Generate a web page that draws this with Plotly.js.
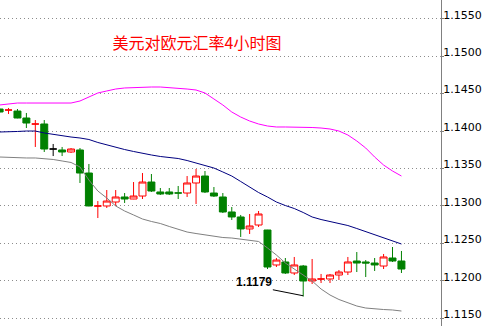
<!DOCTYPE html>
<html><head><meta charset="utf-8">
<script src="https://cdn.plot.ly/plotly-3.0.1.min.js"></script>
<style>html,body{margin:0;padding:0;background:#fff}#chart{width:483px;height:326px}</style>
</head><body><div id="chart"></div>
<script>
// 4-hour bars, index 0..45
const openP  = [1.14294,1.14280,1.14267,1.14174,1.14093,1.14094,1.13760,1.13747,1.13720,1.13747,
                1.13439,1.12998,1.12999,1.13052,1.13119,1.13092,1.13132,1.13319,1.13186,1.13186,
                1.13173,1.13172,1.13306,1.13399,1.13172,1.13119,1.12919,1.12852,1.12692,1.12745,
                1.12678,1.12211,1.12251,1.12104,1.12197,1.11997,1.12023,1.12024,1.12077,1.12117,
                1.12264,1.12251,1.12237,1.12197,1.12304,1.12264];
const highP  = [1.14308,1.14308,1.14294,1.14241,1.14147,1.14147,1.13827,1.13787,1.13773,1.13773,
                1.13560,1.13065,1.13212,1.13212,1.13172,1.13319,1.13439,1.13426,1.13239,1.13239,
                1.13266,1.13399,1.13493,1.13466,1.13252,1.13172,1.12985,1.12879,1.12892,1.12932,
                1.12680,1.12304,1.12304,1.12318,1.12211,1.12291,1.12091,1.12091,1.12144,1.12318,
                1.12384,1.12277,1.12304,1.12358,1.12451,1.12398];
const lowP   = [1.14241,1.14227,1.14170,1.14040,1.13787,1.13720,1.13666,1.13666,1.13707,1.13306,
                1.12995,1.12838,1.12972,1.12999,1.13039,1.13090,1.13092,1.13186,1.13146,1.13146,
                1.13092,1.13119,1.13025,1.13172,1.13119,1.12905,1.12812,1.12585,1.12625,1.12718,
                1.12157,1.12184,1.12091,1.12077,1.11790,1.11957,1.11970,1.11970,1.12010,1.12077,
                1.12117,1.12050,1.12131,1.12157,1.12251,1.12104];
const closeP = [1.14254,1.14281,1.14174,1.14107,1.14094,1.13760,1.13760,1.13720,1.13760,1.13439,
                1.12999,1.12999,1.13065,1.13119,1.13092,1.13132,1.13319,1.13199,1.13159,1.13159,
                1.13172,1.13306,1.13399,1.13186,1.13132,1.12919,1.12852,1.12692,1.12732,1.12892,
                1.12184,1.12277,1.12104,1.12211,1.11997,1.12024,1.12024,1.12077,1.12117,1.12251,
                1.12237,1.12237,1.12211,1.12318,1.12264,1.12157];
// Bollinger bands
const upperBand  = [1.14348,1.14361,1.14374,1.14374,1.14374,1.14374,1.14374,1.14374,1.14374,1.14401,
                    1.14454,1.14508,1.14535,1.14561,1.14575,1.14581,1.14588,1.14588,1.14588,1.14581,
                    1.14575,1.14561,1.14548,1.14508,1.14428,1.14348,1.14254,1.14187,1.14134,1.14094,
                    1.14067,1.14054,1.14054,1.14054,1.14054,1.14047,1.14040,1.14027,1.14000,1.13947,
                    1.13867,1.13773,1.13653,1.13546,1.13466,1.13399];
const middleBand = [1.13987,1.13987,1.13994,1.14000,1.14000,1.13974,1.13954,1.13940,1.13920,1.13907,
                    1.13887,1.13847,1.13813,1.13780,1.13753,1.13727,1.13700,1.13680,1.13660,1.13646,
                    1.13633,1.13606,1.13573,1.13540,1.13506,1.13453,1.13399,1.13326,1.13252,1.13179,
                    1.13119,1.13052,1.13005,1.12965,1.12912,1.12852,1.12818,1.12792,1.12765,1.12738,
                    1.12698,1.12658,1.12618,1.12578,1.12538,1.12491];
const lowerBand  = [1.13653,1.13646,1.13640,1.13640,1.13640,1.13633,1.13620,1.13600,1.13580,1.13520,
                    1.13346,1.13199,1.13106,1.12999,1.12932,1.12879,1.12825,1.12792,1.12765,1.12725,
                    1.12685,1.12651,1.12631,1.12611,1.12591,1.12578,1.12571,1.12558,1.12545,1.12525,
                    1.12438,1.12344,1.12237,1.12157,1.12077,1.11997,1.11890,1.11810,1.11750,1.11703,
                    1.11663,1.11636,1.11623,1.11616,1.11610,1.11596];
const neutralBars = [6];          // open == close, drawn black
const lowBar = 34;                // bar carrying the marked low
const lowText = '1.1179';
const titleText = '美元对欧元汇率4小时图';
const yTicks = [1.1150,1.1200,1.1250,1.1300,1.1350,1.1400,1.1450,1.1500,1.1550];
const yTickText = ['1.1150','1.1200','1.1250','1.1300','1.1350','1.1400','1.1450','1.1500','1.1550'];

const idx = openP.map((_, i) => i);
const mainIdx = idx.filter(i => !neutralBars.includes(i));
const pick = (arr, ids) => ids.map(i => arr[i]);

const traces = [
  {type:'candlestick', x: mainIdx, open: pick(openP, mainIdx), high: pick(highP, mainIdx),
   low: pick(lowP, mainIdx), close: pick(closeP, mainIdx), whiskerwidth: 0,
   increasing:{line:{color:'#ff0000', width:1}, fillcolor:'#ffffff'},
   decreasing:{line:{color:'#008000', width:1}, fillcolor:'#008000'},
   hoverinfo:'skip', showlegend:false},
  {type:'candlestick', x: neutralBars, open: pick(openP, neutralBars), high: pick(highP, neutralBars),
   low: pick(lowP, neutralBars), close: pick(closeP, neutralBars), whiskerwidth: 0,
   increasing:{line:{color:'#000000', width:1}, fillcolor:'#000000'},
   decreasing:{line:{color:'#000000', width:1}, fillcolor:'#000000'},
   hoverinfo:'skip', showlegend:false},
  {type:'scatter', mode:'lines', x: idx, y: upperBand, line:{color:'#ff00ff', width:1}, hoverinfo:'skip', showlegend:false},
  {type:'scatter', mode:'lines', x: idx, y: middleBand, line:{color:'#000080', width:1}, hoverinfo:'skip', showlegend:false},
  {type:'scatter', mode:'lines', x: idx, y: lowerBand, line:{color:'#808080', width:1}, hoverinfo:'skip', showlegend:false},
  // leader line from the label to the low
  {type:'scatter', mode:'lines', x: [lowBar - 3.4, lowBar], y: [lowP[lowBar] + 0.0009, lowP[lowBar] + 0.0001],
   line:{color:'#000000', width:1}, hoverinfo:'skip', showlegend:false}
];

const layout = {
  width:483, height:326,
  margin:{l:0, r:42, t:0, b:0},
  paper_bgcolor:'#ffffff', plot_bgcolor:'#ffffff',
  showlegend:false,
  boxgap:0.22, boxgroupgap:0,
  title:{text:titleText, font:{family:'Noto Sans CJK SC', size:16, color:'#ff0000'},
         x:197/483, xref:'container', xanchor:'center', y:1-43/326, yref:'container', yanchor:'middle'},
  xaxis:{range:[0.045, 49.43], showgrid:false, zeroline:false, showticklabels:false, showline:false,
         ticks:'', fixedrange:true, rangeslider:{visible:false}},
  yaxis:{side:'right', range:[1.11396, 1.15750], tickvals:yTicks, ticktext:yTickText,
         showgrid:true, gridcolor:'#8c8c8c', griddash:'1px,3px', gridwidth:1,
         zeroline:false, showline:true, linecolor:'#808080', linewidth:1,
         ticks:'outside', ticklen:2, tickcolor:'#808080',
         ticklabelshift:-4, ticklabelstandoff:-3,
         tickfont:{family:'DejaVu Sans', size:11, color:'#000000'}, fixedrange:true},
  annotations:[{x: lowBar - 5.5, y: lowP[lowBar] + 0.002, xref:'x', yref:'y', text:'<b>'+lowText+'</b>',
                showarrow:false, xanchor:'center', yanchor:'middle',
                font:{family:'Liberation Sans, Arial', size:12, color:'#000000'}}]
};

Plotly.newPlot('chart', traces, layout, {staticPlot:true, displayModeBar:false});
</script>
</body></html>
